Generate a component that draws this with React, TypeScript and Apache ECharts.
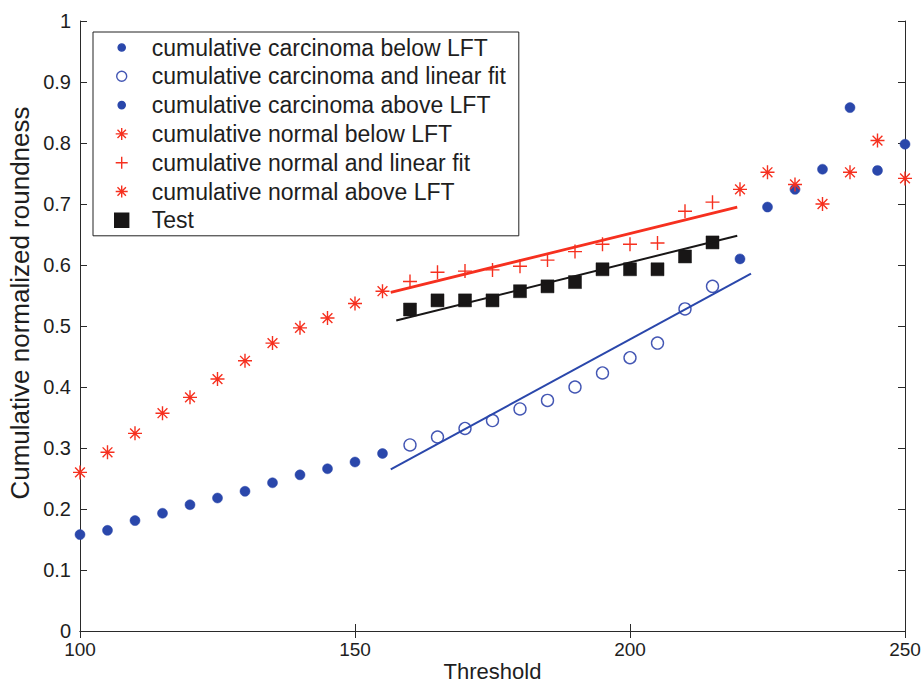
import React, { useEffect, useRef } from "react";
import * as echarts from "echarts";

// ---- data ----
const xBelow = [100, 105, 110, 115, 120, 125, 130, 135, 140, 145, 150, 155];
const xFit = [160, 165, 170, 175, 180, 185, 190, 195, 200, 205, 210, 215];
const xAbove = [220, 225, 230, 235, 240, 245, 250];

const carcBelow = [0.158, 0.165, 0.181, 0.193, 0.207, 0.218, 0.229, 0.243, 0.256, 0.266, 0.277, 0.291];
const carcFit = [0.305, 0.318, 0.332, 0.345, 0.364, 0.378, 0.4, 0.423, 0.448, 0.472, 0.528, 0.565];
const carcAbove = [0.61, 0.695, 0.724, 0.757, 0.858, 0.755, 0.798];

const normBelow = [0.26, 0.293, 0.324, 0.357, 0.383, 0.413, 0.443, 0.472, 0.497, 0.513, 0.537, 0.557];
const normFit = [0.573, 0.588, 0.59, 0.592, 0.598, 0.608, 0.622, 0.634, 0.634, 0.636, 0.688, 0.703];
const normAbove = [0.724, 0.752, 0.732, 0.7, 0.752, 0.804, 0.742];

const testVals = [0.527, 0.542, 0.542, 0.542, 0.557, 0.565, 0.572, 0.593, 0.593, 0.593, 0.614, 0.637];

// linear-fit line end points
const carcLineX = [156.5, 222];
const carcLineY = [0.265, 0.586];
const normLineX = [156.5, 219.5];
const normLineY = [0.555, 0.695];
const testLineX = [157.5, 219.5];
const testLineY = [0.509, 0.648];

const legendNames = [
  "cumulative carcinoma below LFT",
  "cumulative carcinoma and linear fit",
  "cumulative carcinoma above LFT",
  "cumulative normal below LFT",
  "cumulative normal and linear fit",
  "cumulative normal above LFT",
  "Test",
];

const BLUE = "#2a47ab";
const BLUE_OPEN = "#4457b4";
const RED = "#f6301f";
const BLACK = "#181616";
const FONT = "'Liberation Sans', Arial, Helvetica, sans-serif";

const ASTERISK = "path://M8,0L8,16M0,8L16,8M2.4,2.4L13.6,13.6M2.4,13.6L13.6,2.4";
const PLUS = "path://M8,0L8,16M0,8L16,8";
const SQUARE = "path://M0,0L16,0L16,16L0,16Z";

// legend icons in a common 16-unit frame (M0,0 M16,16 pad the bounds)
const circleIcon = (r: number) =>
  `path://M0,0M16,16M${8 + r},8A${r},${r},0,1,1,${8 - r},8A${r},${r},0,1,1,${8 + r},8Z`;
const LEG_DOT = circleIcon(3.6);
const LEG_OPEN = circleIcon(5);
const LEG_AST = "path://M0,0M16,16M8,2L8,14M2,8L14,8M3.8,3.8L12.2,12.2M3.8,12.2L12.2,3.8";
const LEG_PLUS = "path://M0,0M16,16M8,2L8,14M2,8L14,8";
const LEG_SQ = "path://M0,0M16,16M1,1L15,1L15,15L1,15Z";

const zip = (xs: number[], ys: number[]) => xs.map((x, i) => [x, ys[i]]);

export default function App() {
  const ref = useRef<HTMLDivElement>(null);
  useEffect(() => {
    document.body.style.margin = "0";
    if (!ref.current) return;
    const chart = echarts.init(ref.current, null, { renderer: "svg" });
    const axisLine = { show: true, lineStyle: { color: "#2a2a2a", width: 1 } };
    const tick = { show: true, inside: true, length: 7, lineStyle: { color: "#2a2a2a", width: 1 } };
    const scatterBase = { type: "scatter", z: 3, emphasis: { disabled: true } };
    const option: any = {
      animation: false,
      backgroundColor: "#ffffff",
      textStyle: { fontFamily: FONT },
      grid: { left: 80, right: 17, top: 21, bottom: 53, containLabel: false, outerBoundsMode: "none" },
      xAxis: [
        {
          type: "value",
          min: 100,
          max: 250,
          interval: 50,
          position: "bottom",
          axisLine,
          axisTick: tick,
          splitLine: { show: false },
          axisLabel: { fontSize: 19, color: "#1e1e1e", margin: 9, fontFamily: FONT },
          name: "Threshold",
          nameLocation: "middle",
          nameGap: 29,
          nameMoveOverlap: false,
          nameTextStyle: { fontSize: 22, color: "#1e1e1e", fontFamily: FONT },
        },
        {
          type: "value",
          min: 100,
          max: 250,
          interval: 50,
          position: "top",
          axisLine,
          axisTick: tick,
          splitLine: { show: false },
          axisLabel: { show: false },
        },
      ],
      yAxis: [
        {
          type: "value",
          min: 0,
          max: 1,
          interval: 0.1,
          position: "left",
          axisLine,
          axisTick: tick,
          splitLine: { show: false },
          axisLabel: { fontSize: 20, lineHeight: 16, color: "#1e1e1e", margin: 9, fontFamily: FONT },
          name: "Cumulative normalized roundness",
          nameLocation: "middle",
          nameGap: 47,
          nameMoveOverlap: false,
          nameTextStyle: { fontSize: 26, color: "#1e1e1e", fontFamily: FONT, padding: [0, 0, 0, 46] },
        },
        {
          type: "value",
          min: 0,
          max: 1,
          interval: 0.1,
          position: "right",
          axisLine,
          axisTick: tick,
          splitLine: { show: false },
          axisLabel: { show: false },
        },
      ],
      legend: {
        orient: "vertical",
        left: 93,
        top: 32,
        padding: [4, 13, 4, 20],
        itemGap: 5.8,
        itemWidth: 50,
        itemHeight: 16,
        symbolKeepAspect: true,
        backgroundColor: "#ffffff",
        borderColor: "#222222",
        borderWidth: 1,
        borderRadius: 0,
        textStyle: { fontSize: 23, color: "#1e1e1e", fontFamily: FONT },
        itemStyle: { borderWidth: 1.4 },
        selectedMode: false,
        data: [
          { name: legendNames[0], icon: LEG_DOT },
          { name: legendNames[1], icon: LEG_OPEN },
          { name: legendNames[2], icon: LEG_DOT },
          { name: legendNames[3], icon: LEG_AST },
          { name: legendNames[4], icon: LEG_PLUS },
          { name: legendNames[5], icon: LEG_AST },
          { name: legendNames[6], icon: LEG_SQ },
        ],
      },
      series: [
        {
          ...scatterBase,
          name: legendNames[0],
          symbol: "circle",
          symbolSize: 10,
          itemStyle: { color: BLUE, borderColor: BLUE, borderWidth: 0.5, opacity: 1 },
          data: zip(xBelow, carcBelow),
        },
        {
          ...scatterBase,
          name: legendNames[1],
          symbol: "circle",
          symbolSize: 12,
          itemStyle: { color: "rgba(255,255,255,0)", borderColor: BLUE_OPEN, borderWidth: 1.4, opacity: 1 },
          data: zip(xFit, carcFit),
        },
        {
          ...scatterBase,
          name: legendNames[2],
          symbol: "circle",
          symbolSize: 10,
          itemStyle: { color: BLUE, borderColor: BLUE, borderWidth: 0.5, opacity: 1 },
          data: zip(xAbove, carcAbove),
        },
        {
          ...scatterBase,
          name: legendNames[3],
          symbol: ASTERISK,
          symbolSize: 14,
          itemStyle: { color: "rgba(255,255,255,0)", borderColor: RED, borderWidth: 1.4, opacity: 1 },
          data: zip(xBelow, normBelow),
        },
        {
          ...scatterBase,
          name: legendNames[4],
          symbol: PLUS,
          symbolSize: 14,
          itemStyle: { color: "rgba(255,255,255,0)", borderColor: RED, borderWidth: 1.4, opacity: 1 },
          data: zip(xFit, normFit),
        },
        {
          ...scatterBase,
          name: legendNames[5],
          symbol: ASTERISK,
          symbolSize: 14,
          itemStyle: { color: "rgba(255,255,255,0)", borderColor: RED, borderWidth: 1.4, opacity: 1 },
          data: zip(xAbove, normAbove),
        },
        {
          ...scatterBase,
          name: legendNames[6],
          symbol: SQUARE,
          symbolSize: 13,
          itemStyle: { color: BLACK, borderColor: BLACK, borderWidth: 0.5, opacity: 1 },
          data: zip(xFit, testVals),
        },
        {
          name: "carcinoma fit",
          type: "line",
          showSymbol: false,
          symbol: "none",
          lineStyle: { color: BLUE, width: 2 },
          data: zip(carcLineX, carcLineY),
          z: 4,
        },
        {
          name: "normal fit",
          type: "line",
          showSymbol: false,
          symbol: "none",
          lineStyle: { color: RED, width: 2.8 },
          data: zip(normLineX, normLineY),
          z: 4,
        },
        {
          name: "test fit",
          type: "line",
          showSymbol: false,
          symbol: "none",
          lineStyle: { color: BLACK, width: 2 },
          data: zip(testLineX, testLineY),
          z: 4,
        },
      ],
    };
    chart.setOption(option);
    return () => chart.dispose();
  }, []);
  return <div ref={ref} style={{ width: 922, height: 684 }} />;
}
